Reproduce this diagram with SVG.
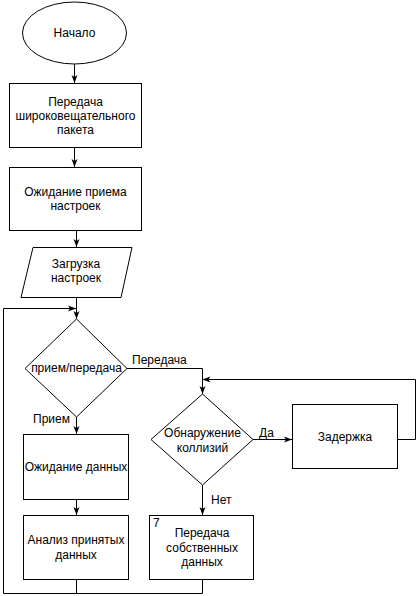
<svg xmlns="http://www.w3.org/2000/svg" width="417" height="596" viewBox="0 0 417 596">
<style>
.s{fill:#fff;stroke:#000;stroke-width:1}
.c{fill:none;stroke:#000;stroke-width:1}
text{font-family:"Liberation Sans",Arial,sans-serif;font-size:12px;fill:#000}
.m{text-anchor:middle}
</style>
<defs>
<marker id="a" viewBox="0 0 8 8" refX="8" refY="4" markerWidth="8" markerHeight="8" markerUnits="userSpaceOnUse" orient="auto">
<path d="M0,1 L8,4 L0,7 L2,4 Z" fill="#000"/>
</marker>
</defs>
<rect width="417" height="596" fill="#fff"/>
<g id="connectors">
<line class="c" x1="74.5" y1="64" x2="74.5" y2="83" marker-end="url(#a)"/>
<line class="c" x1="74.5" y1="147" x2="74.5" y2="167" marker-end="url(#a)"/>
<line class="c" x1="76.5" y1="230" x2="76.5" y2="247" marker-end="url(#a)"/>
<line class="c" x1="76.5" y1="297" x2="76.5" y2="319" marker-end="url(#a)"/>
<polyline class="c" points="76.5,579 76.5,593.5 3.5,593.5 3.5,308.5 76,308.5" marker-end="url(#a)"/>
<polyline class="c" points="202.5,579 202.5,593.5 76.5,593.5"/>
<line class="c" x1="76.5" y1="417" x2="76.5" y2="434" marker-end="url(#a)"/>
<line class="c" x1="76.5" y1="499" x2="76.5" y2="515" marker-end="url(#a)"/>
<polyline class="c" points="127,368.5 202.5,368.5 202.5,394" marker-end="url(#a)"/>
<polyline class="c" points="397,439.5 415.5,439.5 415.5,379.5 202.5,379.5" marker-end="url(#a)"/>
<line class="c" x1="253" y1="439.5" x2="292" y2="439.5" marker-end="url(#a)"/>
<line class="c" x1="202.5" y1="485" x2="202.5" y2="515" marker-end="url(#a)"/>
<text x="132" y="364">Передача</text>
<text x="33" y="423">Прием</text>
<text x="259" y="437">Да</text>
<text x="211" y="504">Нет</text>
</g>
<g id="start">
<ellipse class="s" cx="74.5" cy="33" rx="52" ry="31"/>
<text class="m" x="74.5" y="37">Начало</text>
</g>
<g id="broadcast">
<rect class="s" x="9.5" y="83.5" width="132" height="64"/>
<text class="m" x="75.5" y="106">Передача</text>
<text class="m" x="75.5" y="120">широковещательного</text>
<text class="m" x="75.5" y="134">пакета</text>
</g>
<g id="wait-settings">
<rect class="s" x="9.5" y="167.5" width="132" height="63"/>
<text class="m" x="75.5" y="196">Ожидание приема</text>
<text class="m" x="75.5" y="210">настроек</text>
</g>
<g id="load-settings">
<polygon class="s" points="33,247.5 132,247.5 121,297.5 21,297.5"/>
<text class="m" x="76" y="268">Загрузка</text>
<text class="m" x="76" y="282">настроек</text>
</g>
<g id="rxtx">
<polygon class="s" points="76.5,319 127,368.5 76.5,417 25,368.5"/>
<text class="m" x="76.5" y="372">прием/передача</text>
</g>
<g id="wait-data">
<rect class="s" x="23.5" y="434.5" width="105" height="65"/>
<text class="m" x="76" y="471">Ожидание данных</text>
</g>
<g id="analyze">
<rect class="s" x="23.5" y="515.5" width="105" height="64"/>
<text class="m" x="76" y="544">Анализ принятых</text>
<text class="m" x="76" y="559">данных</text>
</g>
<g id="collision">
<polygon class="s" points="202.5,394 253,439.5 202.5,485 151,439.5"/>
<text class="m" x="202.5" y="437">Обнаружение</text>
<text class="m" x="202.5" y="452">коллизий</text>
</g>
<g id="delay">
<rect class="s" x="292.5" y="404.5" width="105" height="64"/>
<text class="m" x="345" y="441">Задержка</text>
</g>
<g id="send-own">
<rect class="s" x="149.5" y="515.5" width="104" height="64"/>
<text x="153" y="527">7</text>
<text class="m" x="202" y="537">Передача</text>
<text class="m" x="202" y="552">собственных</text>
<text class="m" x="202" y="566">данных</text>
</g>
</svg>
